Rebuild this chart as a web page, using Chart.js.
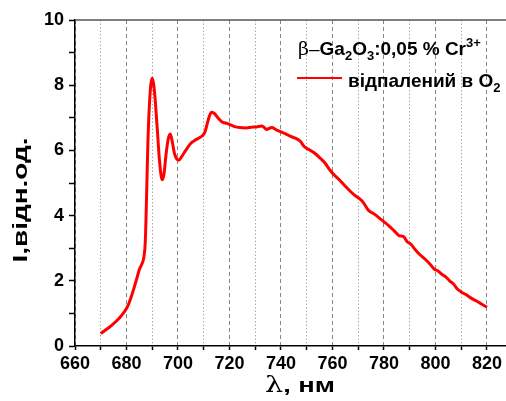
<!DOCTYPE html>
<html>
<head>
<meta charset="utf-8">
<script src="https://cdn.jsdelivr.net/npm/chart.js@4.4.0/dist/chart.umd.min.js"></script>
<style>
  html, body { margin: 0; background: #fff; }
</style>
</head>
<body>
<canvas id="lum" width="506" height="401"></canvas>
<script>
// spectrum (nm, rel. units)
const wavelength = [
  670, 672, 674, 676, 678, 680, 681, 682, 683, 684, 685, 686, 686.8, 687.3, 687.8,
  688.3, 688.9, 689.5, 690, 690.6, 691.2, 692, 692.8, 693.5, 694, 694.6, 695.4, 696.2,
  697, 697.7, 698.5, 699.4, 700.3, 701.5, 703, 705, 707, 709, 710.5, 711.8, 713, 714,
  715.5, 717, 718.5, 720, 722, 724, 726.5, 728.5, 730.5, 732.5, 733.5, 734.5, 735.5,
  736.5, 738, 740, 742, 744, 746, 747.5, 749, 751, 753, 755, 757, 759, 761, 763, 765,
  767, 769, 770.5, 772, 774, 776, 778, 780, 782, 784, 786, 787.5, 789, 790.5, 792, 794,
  796, 798, 799.5, 801, 802.5, 804, 805.5, 807, 808.5, 810, 812, 814, 816, 818, 820
];
const intensity = [
  0.38, 0.50, 0.62, 0.76, 0.93, 1.15, 1.32, 1.55, 1.80, 2.07, 2.35, 2.52, 2.75, 3.2, 4.6,
  6.2, 7.4, 8.05, 8.21, 8.0, 7.5, 6.6, 5.7, 5.2, 5.1, 5.3, 5.9, 6.35,
  6.5, 6.3, 5.95, 5.75, 5.7, 5.82, 6.0, 6.22, 6.33, 6.42, 6.57, 6.95, 7.17, 7.14,
  7.0, 6.88, 6.84, 6.80, 6.73, 6.70, 6.69, 6.71, 6.72, 6.75, 6.70, 6.64, 6.68,
  6.70, 6.64, 6.57, 6.50, 6.42, 6.36, 6.28, 6.12, 6.02, 5.92, 5.78, 5.62, 5.40, 5.22, 5.07, 4.90,
  4.74, 4.60, 4.52, 4.40, 4.16, 4.06, 3.94, 3.81, 3.68, 3.53, 3.38, 3.36, 3.20, 3.12, 2.97, 2.80,
  2.66, 2.50, 2.36, 2.30, 2.20, 2.12, 2.00, 1.90, 1.75, 1.66, 1.57, 1.46, 1.38, 1.28, 1.19
];
const xRange = [660, 827.4];
const yRange = [0, 10];
const seriesName = "відпалений в O₂";

const boldFont = "Liberation Sans, Arial, sans-serif";

// rich text: parts with sub/sup
function drawParts(ctx, parts, x, y) {
  parts.forEach((p) => {
    let size = p.size || 19;
    let dy = 0;
    if (p.sub) { size = 13; dy = 5; }
    if (p.sup) { size = 13; dy = -8; }
    ctx.font = (p.plain ? "" : "bold ") + size + "px " + (p.family || boldFont);
    ctx.fillText(p.t, x, y + dy);
    x += ctx.measureText(p.t).width;
  });
}

const decorations = {
  id: "decorations",
  afterDraw(chart) {
    const { ctx, chartArea } = chart;
    ctx.save();
    // top frame line
    ctx.strokeStyle = "#555";
    ctx.lineWidth = 1.5;
    ctx.beginPath();
    ctx.moveTo(chartArea.left, chartArea.top);
    ctx.lineTo(chartArea.right, chartArea.top);
    ctx.stroke();

    ctx.fillStyle = "#000";
    ctx.textBaseline = "alphabetic";
    ctx.textAlign = "left";
    // legend
    drawParts(ctx, [
      { t: "β", plain: true, family: "DejaVu Serif, serif", size: 19 },
      { t: "–", plain: true },
      { t: "Ga" }, { t: "2", sub: true },
      { t: "O" }, { t: "3", sub: true },
      { t: ":0,05 % Cr" }, { t: "3+", sup: true }
    ], 298, 55);
    ctx.strokeStyle = "#ff0000";
    ctx.lineWidth = 2;
    ctx.beginPath();
    ctx.moveTo(297, 78);
    ctx.lineTo(342, 78);
    ctx.stroke();
    drawParts(ctx, [{ t: "відпалений в O" }, { t: "2", sub: true }], 348, 87);

    // axis titles (stretched like the original)
    ctx.save();
    ctx.translate(300, 392);
    ctx.scale(1.3, 1);
    ctx.textAlign = "left";
    const lam = "λ";
    const rest = ", нм";
    ctx.font = "bold 21px " + boldFont;
    const wRest = ctx.measureText(rest).width;
    ctx.font = "22px DejaVu Serif, serif";
    const wLam = ctx.measureText(lam).width;
    const x0 = -(wLam + wRest) / 2;
    ctx.fillText(lam, x0, 0);
    ctx.font = "bold 21px " + boldFont;
    ctx.fillText(rest, x0 + wLam, 0);
    ctx.restore();

    ctx.save();
    ctx.translate(27, 200);
    ctx.rotate(-Math.PI / 2);
    ctx.scale(1.33, 1);
    ctx.textAlign = "center";
    ctx.font = "bold 21px " + boldFont;
    ctx.fillText("I,відн.од.", 0, 0);
    ctx.restore();

    ctx.restore();
  }
};

const tickFont = { family: boldFont, size: 18, weight: "bold" };

new Chart(document.getElementById("lum"), {
  type: "line",
  data: {
    datasets: [{
      label: seriesName,
      data: wavelength.map((w, i) => ({ x: w, y: intensity[i] })),
      borderColor: "#ff0000",
      borderWidth: 3,
      pointRadius: 0,
      cubicInterpolationMode: "monotone",
      fill: false
    }]
  },
  options: {
    responsive: false,
    animation: false,
    devicePixelRatio: 1,
    layout: { padding: { top: 20, left: 0, right: 0, bottom: 0 } },
    plugins: { legend: { display: false }, tooltip: { enabled: false } },
    scales: {
      x: {
        type: "linear",
        min: xRange[0],
        max: xRange[1],
        afterFit: (s) => { s.height = 55; },
        ticks: {
          stepSize: 10,
          includeBounds: false,
          autoSkip: false,
          maxRotation: 0,
          padding: 3,
          color: "#000",
          font: tickFont,
          callback: (v) => (v % 20 === 0 ? v : "")
        },
        grid: {
          color: (c) => (c.tick && c.tick.value % 20 === 0 ? "#888" : "#aaa"),
          lineWidth: 1,
          tickLength: 4,
          tickColor: "#000",
          tickWidth: 1.5,
          tickBorderDash: []
        },
        border: {
          display: true,
          color: "#000",
          width: 1.5,
          dash: (c) => (c.tick ? (c.tick.value % 20 === 0 ? [4, 3] : [1.5, 2]) : [])
        }
      },
      y: {
        min: yRange[0],
        max: yRange[1],
        afterFit: (s) => { s.width = 75; },
        ticks: {
          stepSize: 1,
          autoSkip: false,
          padding: 5,
          color: "#000",
          font: tickFont,
          callback: (v) => (v % 2 === 0 ? v : "")
        },
        grid: {
          drawOnChartArea: false,
          tickLength: 6,
          tickColor: "#000",
          tickWidth: 1.5
        },
        border: { display: true, color: "#000", width: 1.5 }
      }
    }
  },
  plugins: [decorations]
});
</script>
</body>
</html>
